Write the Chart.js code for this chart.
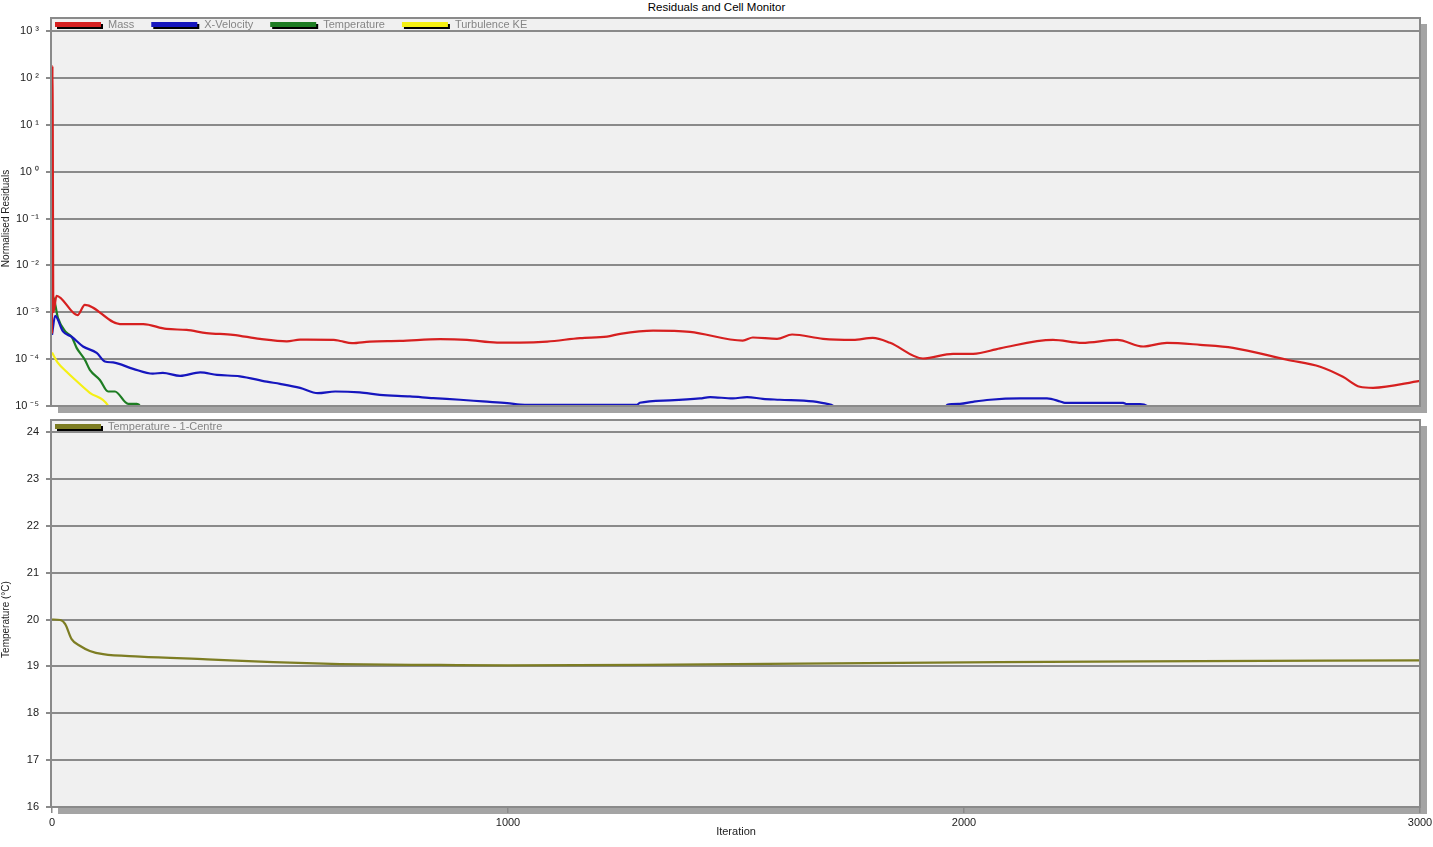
<!DOCTYPE html>
<html>
<head>
<meta charset="utf-8">
<script src="https://cdn.jsdelivr.net/npm/chart.js@4"></script>
<style>
  html, body { margin: 0; background: #fff; overflow: hidden; }
  #wrap { position: relative; width: 1433px; height: 847px; overflow: hidden; }
  #title { position: absolute; top: 0; left: 0; width: 1433px; text-align: center;
           font: 11.5px "Liberation Sans", Arial, sans-serif; line-height: 14px; color: #000; }
  canvas { position: absolute; left: 0; }
</style>
</head>
<body>
<div id="wrap">
  <div id="title">Residuals and Cell Monitor</div>
  <canvas id="resChart" width="1433" height="420" style="top:0"></canvas>
  <canvas id="monChart" width="1460" height="433" style="top:414px"></canvas>
</div>
<script>
// residuals (iteration, value)
const massIter = [0, 1, 3, 10, 56, 72, 149, 200, 251, 295, 339, 397, 456, 515, 544, 618, 632, 658, 697, 763, 851, 910, 976, 1026, 1086, 1158, 1217, 1246, 1318, 1399, 1515, 1537, 1590, 1623, 1691, 1757, 1800, 1838, 1910, 1976, 2020, 2079, 2195, 2259, 2336, 2393, 2445, 2518, 2590, 2708, 2781, 2831, 2868, 2897, 3000];
const massVal = [3.5e-4, 180, 1.0e-3, 2.24e-3, 8.7e-4, 1.44e-3, 5.6e-4, 5.6e-4, 4.4e-4, 4.2e-4, 3.6e-4, 3.3e-4, 2.7e-4, 2.4e-4, 2.6e-4, 2.58e-4, 2.44e-4, 2.19e-4, 2.37e-4, 2.44e-4, 2.67e-4, 2.58e-4, 2.26e-4, 2.26e-4, 2.37e-4, 2.81e-4, 3.03e-4, 3.46e-4, 4.07e-4, 3.82e-4, 2.49e-4, 2.89e-4, 2.71e-4, 3.35e-4, 2.71e-4, 2.58e-4, 2.85e-4, 2.23e-4, 1.03e-4, 1.30e-4, 1.30e-4, 1.70e-4, 2.58e-4, 2.23e-4, 2.58e-4, 1.86e-4, 2.23e-4, 2.02e-4, 1.74e-4, 9.7e-5, 6.9e-5, 4.2e-5, 2.57e-5, 2.44e-5, 3.44e-5];

const velIter = [0, 7, 24, 43, 68, 98, 116, 134, 178, 221, 243, 281, 325, 362, 412, 471, 500, 544, 583, 621, 675, 719, 785, 836, 895, 945, 998, 1037, 1283, 1289, 1355, 1421, 1443, 1493, 1524, 1559, 1596, 1669, 1700, 1713, 1725, 1950, 1963, 1991, 2020, 2057, 2123, 2182, 2211, 2221, 2349, 2357, 2386, 2401, 2410];
const velVal = [3.3e-4, 8.4e-4, 3.9e-4, 3.0e-4, 1.86e-4, 1.36e-4, 8.9e-5, 8.5e-5, 6.2e-5, 4.9e-5, 5.1e-5, 4.4e-5, 5.2e-5, 4.6e-5, 4.3e-5, 3.3e-5, 2.97e-5, 2.44e-5, 1.88e-5, 2.04e-5, 1.95e-5, 1.73e-5, 1.6e-5, 1.47e-5, 1.36e-5, 1.25e-5, 1.15e-5, 1.06e-5, 1.06e-5, 1.17e-5, 1.32e-5, 1.45e-5, 1.55e-5, 1.45e-5, 1.55e-5, 1.42e-5, 1.36e-5, 1.25e-5, 1.11e-5, 1.01e-5, 5e-6, 5e-6, 1.06e-5, 1.11e-5, 1.23e-5, 1.36e-5, 1.45e-5, 1.45e-5, 1.25e-5, 1.17e-5, 1.17e-5, 1.1e-5, 1.1e-5, 1.01e-5, 5e-6];

const tempIter = [0, 2, 13, 29, 43, 54, 72, 83, 105, 123, 138, 167, 186, 193, 200];
const tempVal = [1.7e-3, 2.2e-3, 7.6e-4, 3.9e-4, 3.0e-4, 1.74e-4, 9.7e-5, 5.9e-5, 3.6e-5, 2.04e-5, 2.04e-5, 1.11e-5, 1.11e-5, 1.0e-5, 5e-6];

const keIter = [0, 13, 32, 46, 83, 123, 135];
const keVal = [1.38e-4, 8.3e-5, 5.4e-5, 4.0e-5, 1.91e-5, 1.01e-5, 5e-6];

// cell monitor, temperature at 1-Centre
const monIter = [0, 18, 29, 43, 61, 83, 112, 193, 340, 485, 632, 850, 1000, 1300, 1640, 2079, 2518, 3000];
const monVal = [20.0, 19.99, 19.9, 19.58, 19.44, 19.33, 19.26, 19.21, 19.15, 19.09, 19.05, 19.03, 19.02, 19.03, 19.06, 19.09, 19.11, 19.13];

const decades = [1e-5, 1e-4, 1e-3, 1e-2, 1e-1, 1, 1e1, 1e2, 1e3];
const xTicks = [0, 1000, 2000, 3000];

function pairs(xs, ys) {
  return xs.map((x, i) => ({ x: x, y: ys[i] }));
}

Chart.defaults.font.family = '"Liberation Sans", Arial, sans-serif';
Chart.defaults.font.size = 10;
Chart.defaults.color = '#222';

const sup = { '-': '\u207B', '0': '\u2070', '1': '\u00B9', '2': '\u00B2', '3': '\u00B3', '4': '\u2074', '5': '\u2075' };
const tickFont = { size: 11 };

// grey panel, drop shadow, frame and legend strip
const panelPlugin = {
  id: 'panel',
  beforeDraw(chart, args, opts) {
    const ctx = chart.ctx, a = chart.chartArea;
    const top = a.top - opts.strip;
    ctx.save();
    ctx.fillStyle = '#a4a4a4';
    ctx.fillRect(a.right + 1, top + 6, 6, a.bottom - top + 1);
    ctx.fillRect(a.left + 6, a.bottom + 1, a.right - a.left + 1, 6);
    ctx.fillStyle = '#f0f0f0';
    ctx.fillRect(a.left, top, a.right - a.left, a.bottom - top);
    ctx.restore();
  },
  afterDraw(chart, args, opts) {
    const ctx = chart.ctx, a = chart.chartArea;
    const top = a.top - opts.strip;
    ctx.save();
    ctx.strokeStyle = '#8a8a8a';
    ctx.lineWidth = 2;
    ctx.strokeRect(a.left - 1, top, a.right - a.left + 1, a.bottom - top);
    // legend
    let x = a.left + 3;
    const y = top + 7;
    ctx.font = '11px "Liberation Sans", Arial, sans-serif';
    ctx.textBaseline = 'middle';
    chart.data.datasets.forEach(ds => {
      ctx.fillStyle = '#000';
      ctx.fillRect(x + 2, y - 1, 46, 5);
      ctx.fillStyle = ds.borderColor;
      ctx.fillRect(x, y - 3, 46, 5);
      ctx.fillStyle = '#858585';
      ctx.fillText(ds.label, x + 53, y);
      x += 53 + ctx.measureText(ds.label).width + 17;
    });
    ctx.restore();
  }
};

const lineOpts = { borderWidth: 2.2, pointRadius: 0, cubicInterpolationMode: 'monotone', clip: 1 };

new Chart(document.getElementById('resChart'), {
  type: 'line',
  data: {
    datasets: [
      Object.assign({ label: 'Mass', data: pairs(massIter, massVal), borderColor: 'rgb(214,32,32)' }, lineOpts),
      Object.assign({ label: 'X-Velocity', data: pairs(velIter, velVal), borderColor: 'rgb(22,22,190)' }, lineOpts),
      Object.assign({ label: 'Temperature', data: pairs(tempIter, tempVal), borderColor: 'rgb(30,125,35)' }, lineOpts),
      Object.assign({ label: 'Turbulence KE', data: pairs(keIter, keVal), borderColor: 'rgb(245,240,20)' }, lineOpts)
    ]
  },
  options: {
    responsive: false,
    animation: false,
    layout: { padding: { top: 31, right: 13, bottom: 14, left: 0 } },
    plugins: { legend: { display: false }, tooltip: { enabled: false }, panel: { strip: 13 } },
    scales: {
      x: { type: 'linear', min: 0, max: 3000, display: false },
      y: {
        type: 'logarithmic',
        min: 1e-5,
        max: 1e3,
        afterBuildTicks: s => { s.ticks = decades.map(v => ({ value: v })); },
        afterFit: s => { s.width = 52; },
        ticks: {
          padding: 7,
          color: '#222',
          font: tickFont,
          callback: v => '10 ' + String(Math.round(Math.log10(v))).split('').map(c => sup[c]).join('')
        },
        grid: { color: '#8a8a8a', lineWidth: 2, tickLength: 6 },
        border: { display: false },
        title: { display: true, text: 'Normalised Residuals', padding: 0, color: '#222' }
      }
    }
  },
  plugins: [panelPlugin]
});

// this canvas is wider than the window so the last x label can hang past the edge
new Chart(document.getElementById('monChart'), {
  type: 'line',
  data: {
    datasets: [
      Object.assign({ label: 'Temperature - 1-Centre', data: pairs(monIter, monVal), borderColor: 'rgb(125,125,35)' }, lineOpts)
    ]
  },
  options: {
    responsive: false,
    animation: false,
    layout: { padding: { top: 18, right: 40, bottom: 0, left: 0 } },
    plugins: { legend: { display: false }, tooltip: { enabled: false }, panel: { strip: 12 } },
    scales: {
      x: {
        type: 'linear',
        min: 0,
        max: 3000,
        afterBuildTicks: s => { s.ticks = xTicks.map(v => ({ value: v })); },
        afterFit: s => { s.height = 40; },
        ticks: { maxRotation: 0, padding: 3, color: '#222', font: tickFont, callback: v => String(v) },
        grid: { drawOnChartArea: false, color: '#8a8a8a', lineWidth: 1.5, tickLength: 6 },
        border: { display: false },
        title: { display: true, text: 'Iteration', font: { size: 11 }, padding: { top: 0, bottom: 8 }, color: '#222' }
      },
      y: {
        min: 16,
        max: 24,
        afterFit: s => { s.width = 52; },
        ticks: { stepSize: 1, padding: 7, color: '#222', font: tickFont },
        grid: { color: '#8a8a8a', lineWidth: 2, tickLength: 6 },
        border: { display: false },
        title: { display: true, text: 'Temperature (\u00B0C)', padding: 0, color: '#222' }
      }
    }
  },
  plugins: [panelPlugin]
});
</script>
</body>
</html>
